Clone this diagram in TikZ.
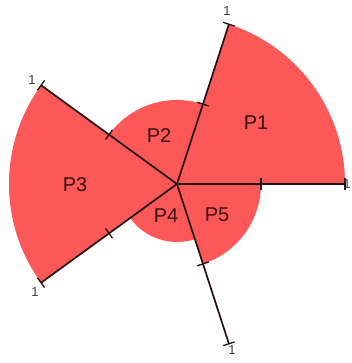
\documentclass[tikz,border=0pt]{standalone}
\usepackage{fontspec}
\setmainfont{Liberation Sans}
\definecolor{sectorred}{RGB}{252,88,88}
\definecolor{axisdark}{RGB}{35,18,18}
\definecolor{labeldark}{RGB}{60,15,15}
\definecolor{onegray}{RGB}{60,60,60}
\begin{document}
\begin{tikzpicture}[x=1pt,y=1pt,
  sector/.style={fill=sectorred},
  axisline/.style={draw=axisdark,line width=1.7pt},
  tickmark/.style={draw=axisdark,line width=1.3pt},
  plabel/.style={font=\fontsize{20}{20}\selectfont, text=labeldark, inner sep=0pt},
  onelabel/.style={font=\fontsize{13}{13}\selectfont, text=onegray, inner sep=0pt}]
\useasboundingbox (0,0) rectangle (351,363);
\coordinate (c) at (177,179);
\def\R{168}
% sectors
\fill[sector] (c) -- ++(0:\R) arc[start angle=0,end angle=72,radius=\R] -- cycle;
\fill[sector] (c) -- ++(72:84) arc[start angle=72,end angle=144,radius=84] -- cycle;
\fill[sector] (c) -- ++(144:\R) arc[start angle=144,end angle=216,radius=\R] -- cycle;
\fill[sector] (c) -- ++(216:58) arc[start angle=216,end angle=288,radius=58] -- cycle;
\fill[sector] (c) -- ++(288:84) arc[start angle=288,end angle=360,radius=84] -- cycle;
% axes
\foreach \a/\n in {0/e1,72/e2,144/e3,216/e4,288/e5}{
  \path (c) ++(\a:\R) coordinate (\n);
  \draw[axisline] (c) -- (\n);
  \begin{scope}[shift={(c)},rotate=\a]
    \draw[tickmark] (\R/2,-6) -- (\R/2,6);
    \draw[tickmark] (\R,-6) -- (\R,6);
  \end{scope}
}
% axis labels
\node[onelabel] (l1) at (347,179) {1};
\node[onelabel] (l2) at (227,352) {1};
\node[onelabel] (l3) at (32,283) {1};
\node[onelabel] (l4) at (35,71) {1};
\node[onelabel] (l5) at (232,13) {1};
% sector labels
\node[plabel] (p1) at (256,240) {P1};
\node[plabel] (p2) at (159,227) {P2};
\node[plabel] (p3) at (75,178) {P3};
\node[plabel] (p4) at (166,147) {P4};
\node[plabel] (p5) at (217,148) {P5};
\end{tikzpicture}
\end{document}
